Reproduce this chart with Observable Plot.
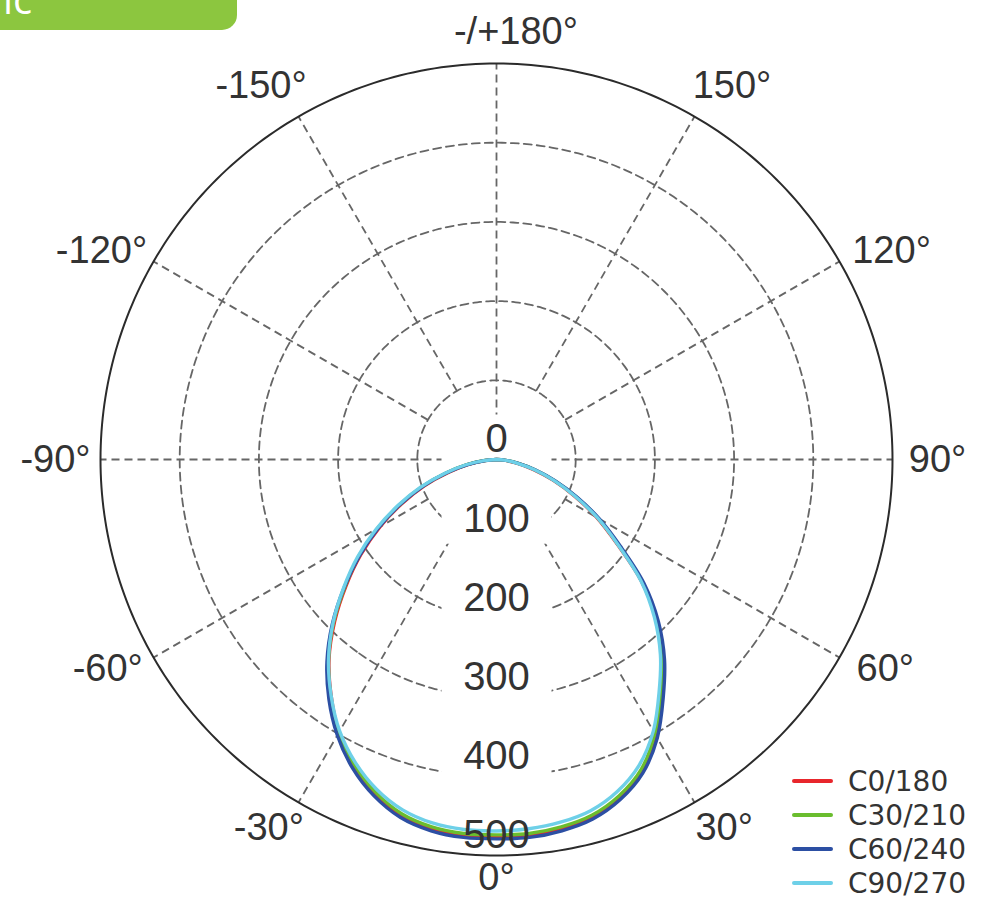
<!DOCTYPE html>
<html><head><meta charset="utf-8">
<script src="https://cdn.jsdelivr.net/npm/d3@7"></script>
<script src="https://cdn.jsdelivr.net/npm/@observablehq/plot@0.6"></script>
<style>
body{margin:0;background:#fff;}
#wrap{position:relative;width:982px;height:898px;overflow:hidden;background:#fff;}
#tab{position:absolute;left:0;top:0;width:237px;height:30px;background:#8cc63f;border-bottom-right-radius:15px;overflow:hidden;}
#tab span{position:absolute;left:3px;top:-21px;font-family:"Open Sans";font-size:40px;line-height:40px;color:#fff;}
#legend{position:absolute;left:792px;top:764px;font-family:"DejaVu Sans";font-size:28px;color:#333;}
#legend .row{display:flex;align-items:center;height:34px;}
#legend .sw{width:41px;height:4px;margin-right:15px;border-radius:2px;}
</style></head>
<body><div id="wrap"><div id="tab"><span>ic</span></div></div>
<script>
// ---- data ----
const angles = [-90,-85,-80,-75,-70,-65,-60,-55,-50,-45,-40,-35,-30,-25,-20,-15,-10,-5,0,5,10,15,20,25,30,35,40,45,50,55,60,65,70,75,80,85,90];
const seriesNames = ["C0/180","C30/210","C60/240","C90/270"];
const c0_180  = [0,13,36,63,97,132,170,209,248,289,329,364,398,426,449,465,473,476,477,476,473,467,454,434,402,363,326,285,239,186,146,108,76,48,26,9,0];
const c30_210 = [0,15,38,66,100,135,173,212,250,291,330,365,398,425,447,463,471,474,474,474,471,465,452,432,400,362,325,285,240,188,148,110,78,50,27,10,0];
const c60_240 = [0,14,37,65,99,134,172,211,251,293,333,369,402,430,452,468,476,479,479,479,476,470,457,437,406,367,330,289,243,191,150,112,79,51,28,10,0];
const c90_270 = [0,16,40,68,102,137,175,214,252,292,330,364,396,422,443,458,466,469,469,468,465,459,446,426,396,358,322,282,238,187,147,109,77,49,26,10,0];
const seriesColors = ["#e8262c","#6abd2e","#2c4fa3","#6ed0e8"];
const ringValues = [0,100,200,300,400,500];
const ringLabels = ["0","100","200","300","400","500"];
const spokeAngles = [30,60,90,120,150,180,-150,-120,-90,-60,-30];
const angleTicks = [0,30,60,90,120,150,180,-150,-120,-90,-60,-30];
const angleTickLabels = ["0°","30°","60°","90°","120°","150°","-/+180°","-150°","-120°","-90°","-60°","-30°"];

// ---- helpers ----
const RMAX = 500;
const lat = v => 90 - v / RMAX * 90;
const seriesValues = [c0_180, c30_210, c60_240, c90_270];
const rows = seriesNames.flatMap((s, k) => angles.map((a, i) => ({series: s, angle: a, value: seriesValues[k][i]})));
const R_PX = 396;
// label distance from centre (in data units) and a small angular nudge toward the horizontal axis
const labelRadius = a => {
  const t = a * Math.PI / 180;
  const c = Math.cos(t);
  return (R_PX + 12 + Math.abs(Math.sin(t)) * 33 + Math.abs(c) * (c > 0 ? 10 : 20)) / R_PX * RMAX;
};
const labelAngle = a => {
  const s = Math.sign(a), m = Math.abs(a);
  if (m === 180) return 177.4;
  if (m > 0 && m < 90) return a + s * 1.7;
  if (m > 90 && m < 180) return a - s * 2.2;
  return a;
};
const spokes = spokeAngles.map(a => ({a, r0: (Math.abs(a) === 90 || Math.abs(a) === 180) ? 0 : 100}));
const circle = v => d3.geoCircle().center([0, 90]).radius(v / RMAX * 90).precision(1)();
const boxSymbol = {draw(ctx) { ctx.rect(-55, -45, 110, 50); }};

const chart = Plot.plot({
  width: 982, height: 898,
  marginLeft: 100, marginRight: 90, marginTop: 63, marginBottom: 43,
  projection: {type: "azimuthal-equidistant", rotate: [0, -90], domain: circle(RMAX), clip: false},
  color: {domain: seriesNames, range: seriesColors},
  marks: [
    Plot.link(spokes, {x1: d => d.a, y1: d => lat(d.r0), x2: d => d.a, y2: () => lat(RMAX),
      stroke: "#666", strokeWidth: 1.8, strokeDasharray: "8,5"}),
    Plot.geo([100, 200, 300, 400], {geometry: d => circle(d), fill: "none",
      stroke: "#666", strokeWidth: 1.8, strokeDasharray: "8,5"}),
    Plot.dot(ringValues, {x: () => 0, y: d => lat(d), symbol: boxSymbol, fill: "white", stroke: "none"}),
    Plot.geo([RMAX], {geometry: d => circle(d), fill: "none", stroke: "#2b2b2b", strokeWidth: 2}),
    Plot.line(rows, {x: "angle", y: d => lat(d.value), z: "series", stroke: "series", strokeWidth: 3.4,
      strokeLinejoin: "round", curve: "catmull-rom"}),
    Plot.text(ringValues, {x: () => 0, y: d => lat(d), text: (d, i) => ringLabels[i], dy: -20,
      fontSize: 40, fontFamily: "Liberation Sans", fill: "#333"}),
    Plot.text(angleTicks, {x: d => labelAngle(d), y: d => lat(labelRadius(d)), text: (d, i) => angleTickLabels[i],
      fontSize: 38, fontFamily: "Liberation Sans", fill: "#333"})
  ]
});
const wrap = document.getElementById("wrap");
wrap.insertBefore(chart, wrap.firstChild);
chart.style.position = "absolute"; chart.style.left = "0"; chart.style.top = "0";

const legend = document.createElement("div");
legend.id = "legend";
seriesNames.forEach((s, i) => {
  const row = document.createElement("div"); row.className = "row";
  const sw = document.createElement("div"); sw.className = "sw"; sw.style.background = seriesColors[i];
  const tx = document.createElement("span"); tx.textContent = s;
  row.appendChild(sw); row.appendChild(tx); legend.appendChild(row);
});
wrap.appendChild(legend);
</script>
</body></html>
